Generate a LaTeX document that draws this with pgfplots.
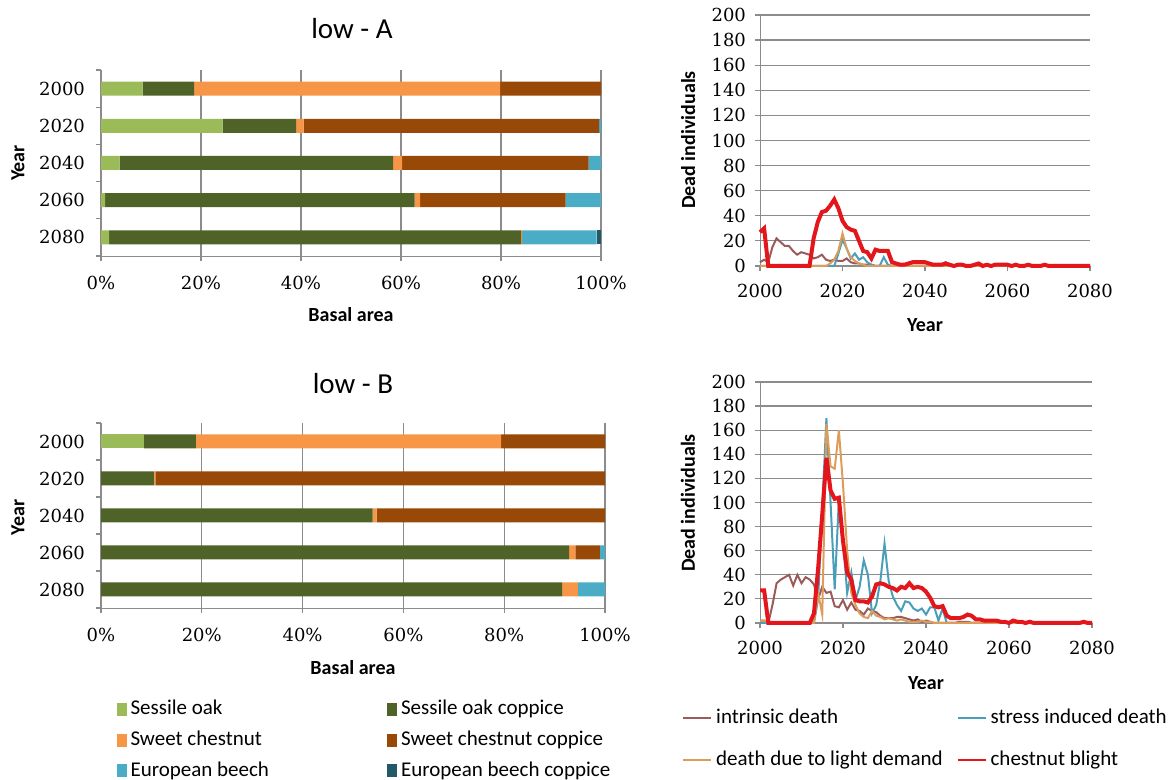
\documentclass[border=0pt]{standalone}
\usepackage{fontspec}
\setmainfont{Carlito}
\newfontfamily\tickfont{DejaVu Serif}
\usepackage{pgfplots}
\pgfplotsset{compat=1.18}
\usepackage{pgfplotstable}

\definecolor{cSO}{HTML}{9BBB59}
\definecolor{cSOC}{HTML}{4F6228}
\definecolor{cSC}{HTML}{F79646}
\definecolor{cSCC}{HTML}{984807}
\definecolor{cEB}{HTML}{4BACC6}
\definecolor{cEBC}{HTML}{215968}
\definecolor{cIN}{HTML}{9B5B5B}
\definecolor{cST}{HTML}{4A9EBA}
\definecolor{cLD}{HTML}{DE9C5A}
\definecolor{cCB}{HTML}{E3161C}
\definecolor{gridgray}{HTML}{8C8C8C}

% basal area shares (%), pos 5 = 2000 ... pos 1 = 2080
\pgfplotstableread{
pos so   soc  sc   scc  eb   ebc
5   8.3  10.3 61.2 20.2 0    0
4   24.3 14.7 1.5  59.1 0.4  0
3   3.7  54.7 1.8  37.3 2.5  0
2   0.8  61.9 1.1  29.1 7.1  0
1   1.6  82.4 0.2  0    14.9 0.9
}\barA

\pgfplotstableread{
pos so   soc  sc   scc  eb   ebc
5   8.5  10.3 60.6 20.6 0    0
4   0    10.5 0.3  89.2 0    0
3   0    53.9 0.8  45.3 0    0
2   0    92.9 1.2  4.9  1.0  0
1   0    91.5 3.1  0    5.4  0
}\barB

% dead individuals per year
\pgfplotstableread{
year intr stress light blight
2000 3  0  0  27
2001 5  0  0  30
2002 3  0  0  0
2003 15 0  0  0
2004 22 0  0  0
2005 19 0  0  0
2006 16 0  0  0
2007 16 0  0  0
2008 12 0  0  0
2009 9  0  0  0
2010 11 0  0  0
2011 10 0  0  0
2012 9  0  0  0
2013 6  0  0  22
2014 7  0  0  35
2015 9  0  0  43
2016 5  0  0  44
2017 4  0  2  48
2018 5  0  5  53
2019 4  10 12 46
2020 4  21 26 36
2021 6  14 14 31
2022 3  6  7  29
2023 2  10 4  28
2024 2  5  2  20
2025 1  7  1  12
2026 1  3  0  11
2027 1  1  0  6
2028 0  0  0  13
2029 0  0  0  12
2030 0  7  0  12
2031 0  1  0  12
2032 0  0  0  3
2033 0  0  0  2
2034 0  0  0  1
2035 0  0  0  1
2036 0  0  0  2
2037 0  0  0  3
2038 0  0  0  3
2039 0  0  0  3
2040 0  0  0  3
2041 0  0  0  2
2042 0  0  0  1
2043 0  0  0  1
2044 1  0  0  1
2045 3  0  0  2
2046 1  0  0  1
2047 0  0  0  0
2048 0  0  0  1
2049 0  0  0  1
2050 0  0  0  0
2051 0  0  0  0
2052 0  0  0  1
2053 0  0  0  2
2054 0  0  0  0
2055 0  0  0  1
2056 0  0  0  0
2057 0  0  0  1
2058 0  0  0  1
2059 0  0  0  1
2060 0  0  0  1
2061 0  0  0  0
2062 0  0  0  1
2063 0  0  0  0
2064 0  0  0  0
2065 0  0  0  1
2066 0  0  0  0
2067 0  0  0  0
2068 0  0  0  0
2069 0  0  0  1
2070 0  0  0  0
2071 0  0  0  0
2072 0  0  0  0
2073 0  0  0  0
2074 0  0  0  0
2075 0  0  0  0
2076 0  0  0  0
2077 0  0  0  0
2078 0  0  0  0
2079 0  0  0  0
2080 0  0  0  0
}\deadA

\pgfplotstableread{
year intr stress light blight
2000 2  0   2   27
2001 2  0   2   27
2002 0  0   0   0
2003 15 0   0   0
2004 33 0   0   0
2005 36 0   0   0
2006 38 0   0   0
2007 40 0   0   0
2008 31 0   0   0
2009 40 0   0   0
2010 33 0   0   0
2011 38 0   0   0
2012 36 0   0   0
2013 32 0   0   8
2014 20 20  25  45
2015 30 95  7   90
2016 25 170 165 137
2017 26 100 130 110
2018 14 28  128 103
2019 13 102 160 104
2020 19 70  115 68
2021 11 25  60  42
2022 17 42  25  36
2023 11 19  15  19
2024 10 30  8   18
2025 7  52  5   18
2026 12 40  4   17
2027 10 8   10  22
2028 9  15  6   32
2029 6  35  5   33
2030 4  66  3   32
2031 4  35  4   30
2032 4  22  3   29
2033 5  15  2   27
2034 5  10  3   30
2035 4  18  2   29
2036 3  17  1   33
2037 2  12  1   29
2038 3  10  1   30
2039 1  12  2   29
2040 2  7   1   26
2041 1  13  1   21
2042 0  13  0   14
2043 0  2   0   13
2044 0  12  0   14
2045 0  0   0   6
2046 0  0   0   4
2047 0  0   0   4
2048 1  0   0   4
2049 1  0   0   5
2050 1  0   0   7
2051 0  0   0   6
2052 0  0   0   3
2053 0  0   0   3
2054 0  0   0   2
2055 0  0   0   2
2056 0  0   0   2
2057 0  0   0   2
2058 0  0   0   1
2059 0  0   0   1
2060 0  0   0   0
2061 0  0   0   2
2062 0  0   0   1
2063 0  0   0   1
2064 0  0   0   0
2065 0  0   0   1
2066 0  0   0   0
2067 0  0   0   0
2068 0  0   0   0
2069 0  0   0   0
2070 0  0   0   0
2071 0  0   0   0
2072 0  0   0   0
2073 0  0   0   0
2074 0  0   0   0
2075 0  0   0   0
2076 0  0   0   0
2077 0  0   0   0
2078 0  0   0   1
2079 0  0   0   0
2080 0  0   0   0
}\deadB

\pgfplotsset{
  base/.style={
    scale only axis,
    axis line style={gridgray, -},
    tick style={gridgray, line width=0.6pt},
    tick align=outside,
    major tick length=2.5pt,
    minor tick length=2.5pt,
    tick label style={font=\tickfont\fontsize{9}{10}\selectfont},
    /pgf/number format/assume math mode=true,
    label style={font=\bfseries\fontsize{10}{12}\selectfont},
    grid style={gridgray, line width=0.6pt},
  },
  bars/.style={
    base,
    xbar stacked, bar width=7pt,
    xmin=0, xmax=100, ymin=0.5, ymax=5.5,
    ytick={1,...,5}, yticklabels={2080,2060,2040,2020,2000},
    minor ytick={0.5,1.5,...,5.5},
    major y tick style={draw=none},
    xtick={0,20,...,100},
    xticklabels={0\%,20\%,40\%,60\%,80\%,100\%},
    xmajorgrids,
    axis x line*=bottom, axis y line*=left,
    xlabel={Basal area}, ylabel={Year},
    title style={font=\fontsize{14.5}{16}\selectfont, anchor=center},
    yticklabel style={xshift=-2pt},
    xticklabel style={yshift=-4pt},
  },
  lines/.style={
    base, no markers, clip=false,
    xmin=2000, xmax=2080, ymin=0, ymax=200,
    xtick={2000,2020,...,2080}, ytick={0,20,...,200},
    xticklabel style={/pgf/number format/1000 sep={}, yshift=-3pt},
    yticklabel style={xshift=-1pt},
    ymajorgrids,
    axis x line*=bottom, axis y line*=left,
    xlabel={Year}, ylabel={Dead individuals},
  },
}

\begin{document}
\begin{tikzpicture}
\path[use as bounding box] (0pt,0pt) rectangle (585pt,390pt);

% low - A
\begin{axis}[bars, at={(50.5pt,262pt)}, anchor=south west,
  width=250pt, height=93pt,
  title={low - A}, title style={at={(axis description cs:0.502,1.161)}},
  xlabel style={at={(axis description cs:0.5,-0.317)}, anchor=center},
  ylabel style={at={(axis description cs:-0.166,0.5)}, anchor=center}]
  \addplot[fill=cSO,  draw=none] table[x=so,  y=pos]{\barA};
  \addplot[fill=cSOC, draw=none] table[x=soc, y=pos]{\barA};
  \addplot[fill=cSC,  draw=none] table[x=sc,  y=pos]{\barA};
  \addplot[fill=cSCC, draw=none] table[x=scc, y=pos]{\barA};
  \addplot[fill=cEB,  draw=none] table[x=eb,  y=pos]{\barA};
  \addplot[fill=cEBC, draw=none] table[x=ebc, y=pos]{\barA};
\end{axis}

% low - B
\begin{axis}[bars, at={(50.5pt,86pt)}, anchor=south west,
  width=252pt, height=92.5pt,
  title={low - B}, title style={at={(axis description cs:0.5,1.146)}},
  xlabel style={at={(axis description cs:0.5,-0.324)}, anchor=center},
  ylabel style={at={(axis description cs:-0.165,0.49)}, anchor=center},
  legend columns=2, legend cell align=left,
  legend image code/.code={\fill[#1] (0pt,-3.5pt) rectangle (5pt,3pt);},
  legend style={at={(axis description cs:0.03,-0.475)}, anchor=north west,
    draw=none, fill=none, inner sep=0pt, row sep=2.5pt,
    font=\fontsize{10.5}{12}\selectfont,
    /tikz/every even column/.append style={column sep=57pt}}]
  \addplot[fill=cSO,  draw=none] table[x=so,  y=pos]{\barB};
  \addplot[fill=cSOC, draw=none] table[x=soc, y=pos]{\barB};
  \addplot[fill=cSC,  draw=none] table[x=sc,  y=pos]{\barB};
  \addplot[fill=cSCC, draw=none] table[x=scc, y=pos]{\barB};
  \addplot[fill=cEB,  draw=none] table[x=eb,  y=pos]{\barB};
  \addplot[fill=cEBC, draw=none] table[x=ebc, y=pos]{\barB};
  \legend{Sessile oak, Sessile oak coppice, Sweet chestnut,
    Sweet chestnut coppice, European beech, European beech coppice}
\end{axis}

% dead individuals A
\begin{axis}[lines, at={(380pt,257pt)}, anchor=south west,
  width=165pt, height=125.5pt,
  xlabel style={at={(axis description cs:0.5,-0.235)}, anchor=center},
  ylabel style={at={(axis description cs:-0.218,0.502)}, anchor=center}]
  \addplot[cIN, line width=1pt] table[x=year, y=intr]{\deadA};
  \addplot[cST, line width=1pt] table[x=year, y=stress]{\deadA};
  \addplot[cLD, line width=1pt] table[x=year, y=light]{\deadA};
  \addplot[cCB, line width=2pt] table[x=year, y=blight]{\deadA};
\end{axis}

% dead individuals B
\begin{axis}[lines, at={(380pt,78.5pt)}, anchor=south west,
  width=166pt, height=120.5pt,
  xlabel style={at={(axis description cs:0.5,-0.249)}, anchor=center},
  ylabel style={at={(axis description cs:-0.217,0.498)}, anchor=center},
  legend columns=2, legend cell align=left,
  legend image code/.code={\draw[#1, line width=0.9pt] (0pt,0pt) -- (14pt,0pt);},
  legend style={at={(axis description cs:-0.235,-0.34)}, anchor=north west,
    draw=none, fill=none, inner sep=0pt, row sep=8pt,
    font=\fontsize{10.5}{12}\selectfont,
    /tikz/every even column/.append style={column sep=5pt}}]
  \addplot[cIN, line width=1pt] table[x=year, y=intr]{\deadB};
  \addplot[cST, line width=1pt] table[x=year, y=stress]{\deadB};
  \addplot[cLD, line width=1pt] table[x=year, y=light]{\deadB};
  \addplot[cCB, line width=2pt] table[x=year, y=blight]{\deadB};
  \legend{intrinsic death, stress induced death,
    death due to light demand, chestnut blight}
\end{axis}
\end{tikzpicture}
\end{document}
